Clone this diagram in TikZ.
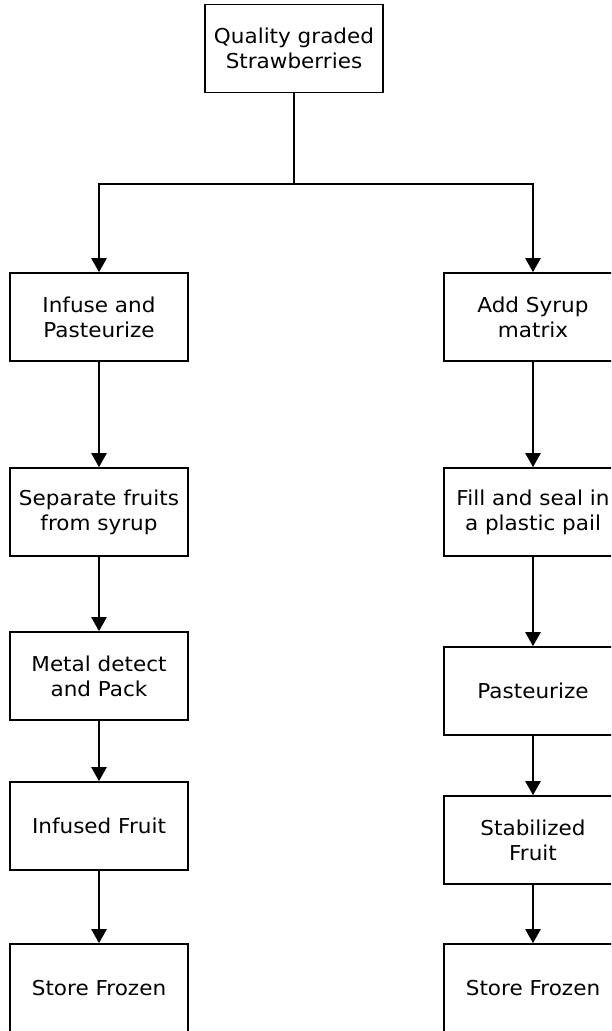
\documentclass[tikz,border=0pt]{standalone}
\usepackage{fontspec}
\setmainfont{DejaVu Sans}[FakeStretch=1.05]
\usetikzlibrary{arrows.meta}

\begin{document}
\begin{tikzpicture}
		[x=1pt, y=-1pt,
		every node/.style={font=\fontsize{20.5}{25}\selectfont, align=center},
		stage/.style={draw, line width=1.6pt, minimum width=178pt, minimum height=88pt, inner sep=0pt},
		flow/.style={line width=2.2pt, -{Triangle[width=15pt,length=14pt]}}]
		\clip (0,0) rectangle (611,1031);
		
		\node[stage] (graded) at (294,48.5) {Quality graded\\Strawberries};
		\coordinate (split) at (294,184);
		
		% infusion line
		\node[stage] (infuse) at (99,317) {Infuse and\\Pasteurize};
		\node[stage] (separate) at (99,512) {Separate fruits\\from syrup};
		\node[stage] (metal) at (99,676) {Metal detect\\and Pack};
		\node[stage] (infused) at (99,826) {Infused Fruit};
		\node[stage] (frozenL) at (99,988) {Store Frozen};
		
		% syrup line
		\node[stage] (syrup) at (533,317) {Add Syrup\\matrix};
		\node[stage] (fill) at (533,512) {Fill and seal in\\a plastic pail};
		\node[stage] (pasteurize) at (533,691) {Pasteurize};
		\node[stage] (stabilized) at (533,840) {Stabilized\\Fruit};
		\node[stage] (frozenR) at (533,988) {Store Frozen};
		
		\draw[line width=2.2pt] (graded) -- (split);
		\draw[flow] (split) -| (infuse);
		\draw[flow] (split) -| (syrup);
		
		\path[flow] (infuse) edge (separate)
			(separate) edge (metal)
			(metal) edge (infused)
			(infused) edge (frozenL);
		\path[flow] (syrup) edge (fill)
			(fill) edge (pasteurize)
			(pasteurize) edge (stabilized)
			(stabilized) edge (frozenR);
		\end{tikzpicture}
\end{document}
